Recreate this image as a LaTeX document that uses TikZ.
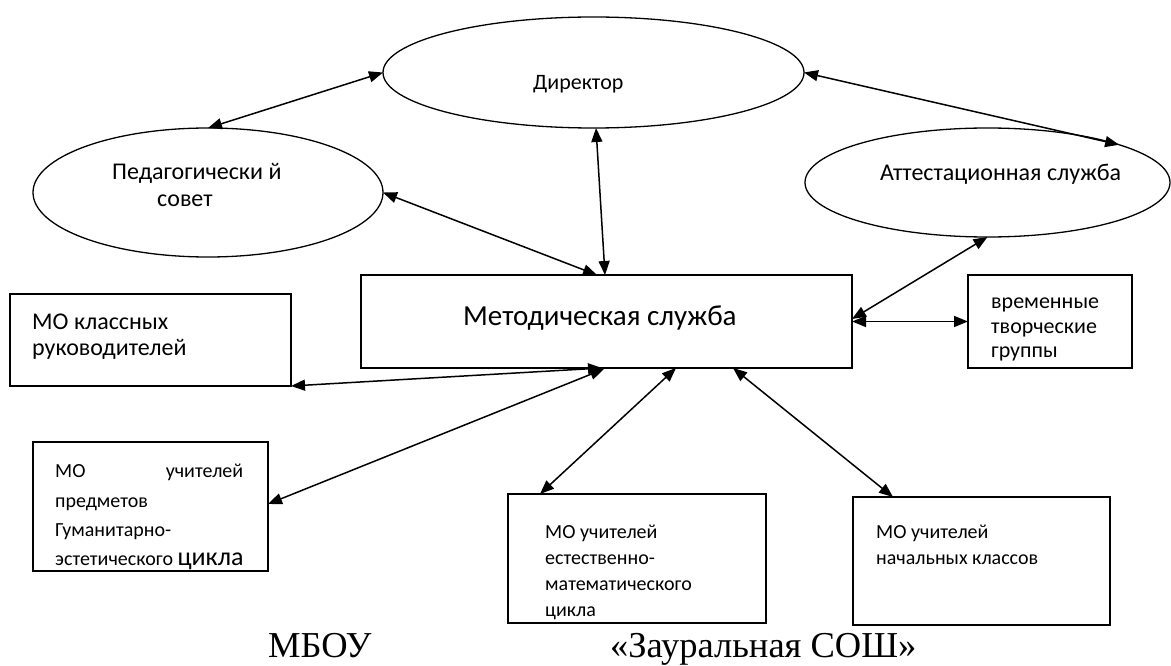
\documentclass[tikz,border=0pt]{standalone}
\usepackage{fontspec}
\setmainfont{Carlito}
\newfontfamily\timesf{Liberation Serif}
\usetikzlibrary{arrows.meta,shapes.geometric,calc}
\begin{document}
\begin{tikzpicture}[x=1pt,y=-1pt,
  ell/.style={draw,ellipse,line width=1.3pt,inner sep=0pt,outer sep=0pt},
  box/.style={draw,rectangle,line width=1.3pt,inner sep=0pt,outer sep=0pt},
  link/.style={line width=1.5pt,{Triangle[length=14pt,width=11pt]}-{Triangle[length=14pt,width=11pt]}},
  txt/.style={inner sep=0pt,anchor=base west},
  fa/.style={font=\fontsize{20}{24}\selectfont},
  fb/.style={font=\fontsize{22}{26}\selectfont},
  fc/.style={font=\fontsize{24}{28}\selectfont},
  fd/.style={font=\fontsize{29}{33}\selectfont},
  ft/.style={font=\timesf\fontsize{36.5}{40}\selectfont},
]
\useasboundingbox (0,0) rectangle (1171,666);

% shapes
\node[ell,minimum width=421pt,minimum height=111pt] (dir) at (593.5,72.5) {};
\node[ell,minimum width=350pt,minimum height=129pt] (ped) at (208,192.5) {};
\node[ell,minimum width=365pt,minimum height=109pt] (att) at (987.5,182.5) {};
\node[box,minimum width=491pt,minimum height=93pt] (met) at (606.5,321.5) {};
\node[box,minimum width=164pt,minimum height=93pt] (tmp) at (1050,321.5) {};
\node[box,minimum width=281pt,minimum height=92pt] (cl) at (150.5,340) {};
\node[box,minimum width=235pt,minimum height=129pt] (hum) at (150.5,506.5) {};
\node[box,minimum width=258pt,minimum height=129pt] (nat) at (637,558.5) {};
\node[box,minimum width=257pt,minimum height=128pt] (prim) at (981.5,561) {};

% texts
\node[txt,fb] (tdir) at (533,90) {Директор};
\node[txt,fc] (tped1) at (112,180) {Педагогически й};
\node[txt,fc] (tped2) at (157,207) {совет};
\node[txt,fc] (tatt) at (880,181) {Аттестационная служба};
\node[txt,fd] (tmet) at (463,325) {Методическая служба};
\node[txt,fb] (ttmp1) at (991,308) {временные};
\node[txt,fb] (ttmp2) at (991,333) {творческие};
\node[txt,fb] (ttmp3) at (991,357) {группы};
\node[txt,fc] (tcl1) at (32,329) {МО классных};
\node[txt,fc] (tcl2) at (32,355) {руководителей};
\node[txt,fa] (thum1) at (55,477) {\makebox[188pt][l]{МО\hfill учителей}};
\node[txt,fa] (thum2) at (55,507) {предметов};
\node[txt,fa] (thum3) at (55,536) {Гуманитарно-};
\node[txt,fa] (thum4) at (55,565) {эстетического {\fontsize{26}{30}\selectfont цикла}};
\node[txt,fa] (tnat1) at (545,538) {МО учителей};
\node[txt,fa] (tnat2) at (545,564) {естественно-};
\node[txt,fa] (tnat3) at (545,590) {математического};
\node[txt,fa] (tnat4) at (545,616) {цикла};
\node[txt,fa] (tprim1) at (876,538) {МО учителей};
\node[txt,fa] (tprim2) at (876,564) {начальных классов};
\node[txt,ft] (tmb) at (268,657) {МБОУ};
\node[txt,ft] (tzs) at (610,657) {«Зауральная СОШ»};

% connectors
\draw[link] (dir.west) -- (ped.north);
\draw[link] (dir.east) -- (att.16);
\draw[link] ($(dir.south)+(2.5,0)$) -- ($(met.north)+(-1.5,0)$);
\draw[link] (ped.east) -- ($(met.north west)+(236,0)$);
\draw[link] ($(met.south west)+(241,0)$) -- (cl.south east);
\draw[link] ($(met.south west)+(243,1)$) -- ($(hum.north east)+(0,62)$);
\draw[link] ($(met.south west)+(315,0)$) -- ($(nat.north west)+(32,0)$);
\draw[link] ($(met.south west)+(372,0)$) -- ($(prim.north west)+(40,0)$);
\draw[link] ($(met.north east)+(0,44)$) -- (att.south);
\draw[link] (met.east) -- (tmp.west);
\end{tikzpicture}
\end{document}
